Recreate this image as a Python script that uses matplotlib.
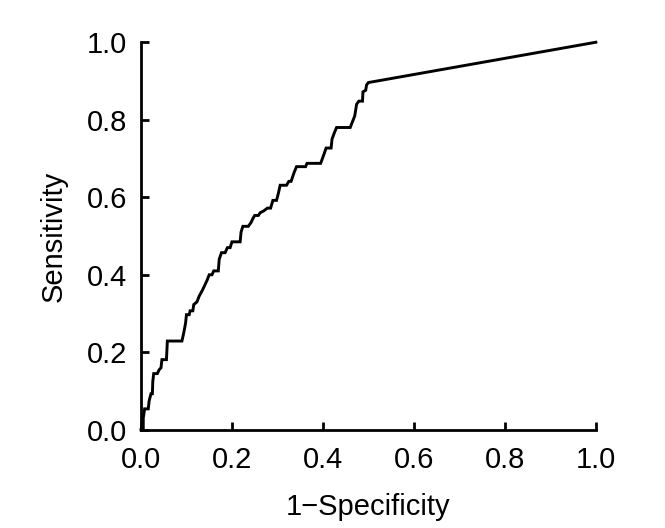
import matplotlib
matplotlib.use('Agg')
import matplotlib.pyplot as plt

plt.rcParams['font.family'] = ['Liberation Sans', 'DejaVu Sans']

# ROC curve vertices
fpr = [0.0, 0.005, 0.005, 0.008, 0.016, 0.018, 0.022, 0.025, 0.026, 0.028,
       0.036, 0.040, 0.044, 0.046, 0.056, 0.058, 0.090, 0.094, 0.098, 0.100,
       0.106, 0.108, 0.114, 0.116, 0.123, 0.128, 0.135, 0.139, 0.145, 0.150,
       0.156, 0.160, 0.170, 0.172, 0.177, 0.185, 0.190, 0.196, 0.200, 0.218,
       0.220, 0.224, 0.236, 0.242, 0.246, 0.250, 0.258, 0.262, 0.270, 0.278,
       0.285, 0.290, 0.298, 0.302, 0.306, 0.320, 0.325, 0.330, 0.337, 0.342,
       0.353, 0.362, 0.365, 0.395, 0.402, 0.407, 0.418, 0.420, 0.425, 0.430,
       0.460, 0.465, 0.470, 0.474, 0.479, 0.487, 0.488, 0.494, 0.496, 0.500,
       1.0]
tpr = [0.0, 0.0, 0.030, 0.054, 0.054, 0.075, 0.093, 0.093, 0.125, 0.145,
       0.145, 0.155, 0.160, 0.181, 0.181, 0.229, 0.229, 0.250, 0.275, 0.297,
       0.297, 0.307, 0.307, 0.323, 0.330, 0.345, 0.360, 0.370, 0.385, 0.400,
       0.400, 0.410, 0.410, 0.440, 0.457, 0.457, 0.470, 0.470, 0.485, 0.485,
       0.510, 0.525, 0.525, 0.535, 0.545, 0.553, 0.553, 0.560, 0.565, 0.572,
       0.572, 0.592, 0.592, 0.610, 0.631, 0.631, 0.641, 0.641, 0.665, 0.679,
       0.679, 0.679, 0.6875, 0.6875, 0.710, 0.727, 0.727, 0.750, 0.766, 0.780,
       0.780, 0.795, 0.810, 0.840, 0.848, 0.848, 0.872, 0.876, 0.890, 0.896,
       1.0]

ticks = [0.0, 0.2, 0.4, 0.6, 0.8, 1.0]
tick_labels = ['0.0', '0.2', '0.4', '0.6', '0.8', '1.0']

fig = plt.figure(figsize=(6.65, 5.28), dpi=100)
ax = fig.add_axes([0.212, 0.186, 0.684, 0.734])

ax.plot(fpr, tpr, color='black', lw=2.1, solid_joinstyle='miter', clip_on=False)

ax.set_xlim(0, 1)
ax.set_ylim(0, 1)
ax.set_xticks(ticks)
ax.set_xticklabels(tick_labels)
ax.set_yticks(ticks)
ax.set_yticklabels(tick_labels)

for s in ['top', 'right']:
    ax.spines[s].set_visible(False)
for s in ['left', 'bottom']:
    ax.spines[s].set_linewidth(2.0)

ax.tick_params(direction='in', length=6, width=2.0, labelsize=21)
ax.tick_params(axis='y', pad=10)
ax.tick_params(axis='x', pad=12)

ax.set_xlabel('1\u2212Specificity', fontsize=21, labelpad=13)
ax.set_ylabel('Sensitivity', fontsize=21, labelpad=14)

fig.savefig('out.png', dpi=100)
